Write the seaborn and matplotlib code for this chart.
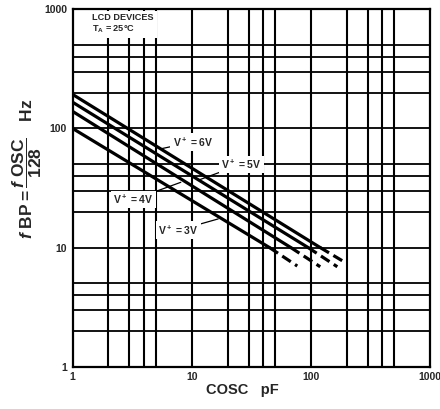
import matplotlib
matplotlib.use("Agg")
import matplotlib.pyplot as plt
import seaborn as sns
import pandas as pd
from matplotlib.ticker import FixedLocator, NullFormatter

# ---- data ----
voltages = ["6V", "5V", "4V", "3V"]
# solid part: from C=1 pF down to f=10 Hz
solid_c = {"6V": [1, 120], "5V": [1, 95], "4V": [1, 68], "3V": [1, 45]}
solid_f = {"6V": [193, 10], "5V": [166, 10], "4V": [139, 10], "3V": [100, 10]}
# dashed extension
dash_c = {"6V": [120, 190], "5V": [95, 167], "4V": [68, 120], "3V": [45, 77]}
dash_f = {"6V": [10, 7.6], "5V": [10, 6.9], "4V": [10, 6.9], "3V": [10, 7.0]}

x_ticks = [1, 10, 100, 1000]
x_ticklabels = ["1", "10", "100", "1000"]
y_ticks = [1, 10, 100, 1000]
y_ticklabels = ["1", "10", "100", "1000"]
minor_grid = [2, 3, 4, 5, 20, 30, 40, 50, 200, 300, 400, 500]

sns.set_style("white")
plt.rcParams["font.family"] = ["Liberation Sans", "DejaVu Sans"]
plt.rcParams["mathtext.fontset"] = "custom"
plt.rcParams["mathtext.rm"] = "Liberation Sans:bold"
plt.rcParams["mathtext.it"] = "Liberation Sans:italic:bold"
plt.rcParams["mathtext.bf"] = "Liberation Sans:bold"

fig = plt.figure(figsize=(4.4, 4.09), dpi=100)
ax = fig.add_axes([0.165, 0.1034, 0.812, 0.8739])
ax.set_xscale("log")
ax.set_yscale("log")
ax.set_xlim(1, 1000)
ax.set_ylim(1, 1000)

# grid
for v in x_ticks[1:-1] + minor_grid:
    ax.axvline(v, color="black", lw=1.5, zorder=1)
for v in y_ticks[1:-1] + minor_grid:
    ax.axhline(v, color="black", lw=1.3, zorder=1)

rows = []
for v in voltages:
    for c, f in zip(solid_c[v], solid_f[v]):
        rows.append({"C": c, "f": f, "V": v, "seg": "solid"})
    for c, f in zip(dash_c[v], dash_f[v]):
        rows.append({"C": c, "f": f, "V": v, "seg": "dash"})
df = pd.DataFrame(rows)

for v in voltages:
    s = df[(df.V == v) & (df.seg == "solid")]
    sns.lineplot(data=s, x="C", y="f", color="black", lw=2.3, ax=ax,
                 estimator=None, sort=False, zorder=3)
    d = df[(df.V == v) & (df.seg == "dash")]
    sns.lineplot(data=d, x="C", y="f", color="black", lw=2.3, ax=ax,
                 estimator=None, sort=False, zorder=3, dashes=False)
    ax.lines[-1].set_dashes([3.2, 1.6])

ax.xaxis.set_major_locator(FixedLocator(x_ticks))
ax.yaxis.set_major_locator(FixedLocator(y_ticks))
ax.xaxis.set_minor_formatter(NullFormatter())
ax.yaxis.set_minor_formatter(NullFormatter())
ax.set_xticklabels(x_ticklabels, fontsize=7.5, fontweight="bold")
ax.set_yticklabels(y_ticklabels, fontsize=7.5, fontweight="bold")
ax.tick_params(axis="both", which="both", length=0)
ax.tick_params(axis="x", pad=4)
ax.tick_params(axis="y", pad=4)

for sp in ax.spines.values():
    sp.set_linewidth(1.6)
    sp.set_color("black")

ax.set_xlabel("COSC   pF", fontsize=10.5, fontweight="bold")
ax.xaxis.set_label_coords(0.474, -0.045)
ax.set_ylabel(r"$\mathit{f}\ \mathrm{BP} = \dfrac{\mathit{f}\ \mathrm{OSC}}{\mathrm{128}}\quad\mathrm{Hz}$",
              fontsize=12.5)
ax.yaxis.set_label_coords(-0.08, 0.553)

box = dict(facecolor="white", edgecolor="none", pad=1.5)
ax.text(0.054, 0.99, "LCD DEVICES\n" + r"T$_\mathrm{A}$ = 25°C", transform=ax.transAxes,
        fontsize=6.6, fontweight="bold", va="top", ha="left", linespacing=1.15,
        bbox=dict(facecolor="white", edgecolor="none", pad=2.5), zorder=5)

ann = dict(arrowstyle="-", color="black", lw=0.9, shrinkA=0, shrinkB=0)
kw = dict(fontsize=7.5, fontweight="bold", va="center", bbox=box, zorder=5)
ax.annotate(r"V$^+$ = 6V", xy=(5.5, 67.4), xytext=(6.9, 77), ha="left",
            arrowprops=ann, **kw)
ax.annotate(r"V$^+$ = 5V", xy=(11.3, 36.7), xytext=(17.7, 50), ha="left",
            arrowprops=ann, **kw)
ax.annotate(r"V$^+$ = 4V", xy=(8.1, 35.3), xytext=(4.8, 25.3), ha="right",
            arrowprops=ann, **kw)
ax.annotate(r"V$^+$ = 3V", xy=(16.7, 17.4), xytext=(11.5, 14.0), ha="right",
            arrowprops=ann, **kw)

fig.savefig("out.png", dpi=100)
